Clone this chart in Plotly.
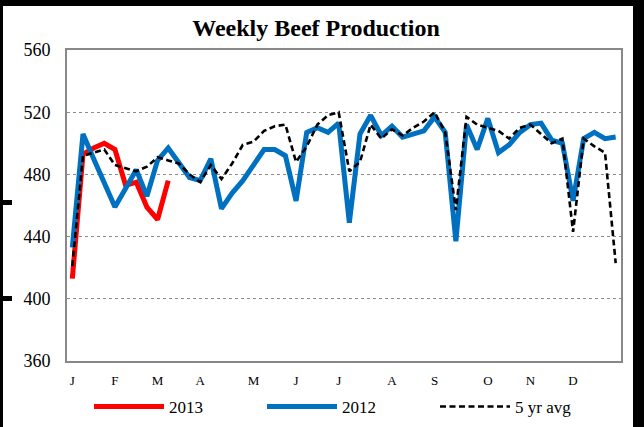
import plotly.graph_objects as go

weeks = list(range(1, 53))

prod_2013 = [413, 493, 497, 500, 496, 473, 475, 459, 451, 476]

prod_2012 = [433, 506, 490, 474, 459, 471, 483, 466, 489, 497,
             488, 478, 476, 490, 458, 468, 476, 486, 496, 496,
             492, 463, 507, 510, 507, 513, 449, 506, 518, 505,
             511, 504, 506, 508, 517, 507, 437, 512, 496, 516,
             494, 499, 507, 512, 513, 502, 500, 463, 503, 507,
             503, 504]

avg_5yr = [421, 492, 494, 496, 486, 484, 482, 485, 491, 489,
           487, 480, 475, 486, 477, 487, 499, 501, 508, 511,
           512, 488, 498, 512, 518, 520, 482, 488, 512, 503,
           509, 505, 510, 514, 520, 507, 457, 517, 512, 510,
           508, 503, 510, 512, 506, 500, 503, 443, 503, 498,
           494, 423]

month_weeks = [1, 5, 9, 13, 18, 22, 26, 31, 35, 40, 44, 48]
month_labels = ["J", "F", "M", "A", "M", "J", "J", "A", "S", "O", "N", "D"]

y_ticks = [360, 400, 440, 480, 520, 560]

SERIF = "Liberation Serif, Times New Roman, serif"

fig = go.Figure()
fig.add_trace(go.Scatter(x=weeks[:len(prod_2013)], y=prod_2013, mode="lines", name="2013",
                         line=dict(color="#ff0000", width=5)))
fig.add_trace(go.Scatter(x=weeks, y=prod_2012, mode="lines", name="2012",
                         line=dict(color="#0070c0", width=5)))
fig.add_trace(go.Scatter(x=weeks, y=avg_5yr, mode="lines", name="5 yr avg",
                         line=dict(color="#000000", width=2.6, dash="6px,3.5px")))

L, R, T, B = 67, 23, 50, 66
W, H = 644, 427
pw, ph = W - L - R, H - T - B

def px(xp):
    return (xp - L) / pw

def py(yp):
    return (H - B - yp) / ph

shapes = []
for x0, y0, x1, y1 in [(0, 0, 3, 427), (0, 0, 644, 6), (633, 0, 644, 427),
                       (0, 200, 12, 205), (0, 296, 12, 301)]:
    shapes.append(dict(type="rect", xref="paper", yref="paper",
                       x0=px(x0), x1=px(x1), y0=py(y1), y1=py(y0),
                       fillcolor="black", line=dict(width=0), layer="above"))

fig.update_layout(
    width=W, height=H,
    margin=dict(l=L, r=R, t=T, b=B, autoexpand=False),
    paper_bgcolor="white", plot_bgcolor="white",
    font=dict(family=SERIF, color="black"),
    title=dict(text="<b>Weekly Beef Production</b>", x=316 / W, xanchor="center",
               y=1 - 28 / H, yanchor="middle", font=dict(family=SERIF, size=24, color="black")),
    showlegend=True,
    legend=dict(orientation="h", xref="container", yref="container",
                x=89 / W, xanchor="left", y=1 - 407 / H, yanchor="middle",
                font=dict(family=SERIF, size=17, color="black"),
                itemwidth=70, entrywidth=88, entrywidthmode="pixels",
                bgcolor="rgba(0,0,0,0)", traceorder="normal"),
    shapes=shapes,
)
fig.update_xaxes(range=[0.5, 52.5], tickmode="array", tickvals=month_weeks, ticktext=month_labels,
                 showgrid=False, zeroline=False, showline=True, mirror=True,
                 linecolor="#888888", linewidth=2, ticks="",
                 tickfont=dict(family=SERIF, size=13, color="black"), ticklabelstandoff=6)
fig.update_yaxes(range=[360, 560], tickmode="array", tickvals=y_ticks,
                 showgrid=True, gridcolor="#8c8c8c", griddash="dot", gridwidth=1,
                 zeroline=False, showline=True, mirror=True,
                 linecolor="#888888", linewidth=2, ticks="",
                 tickfont=dict(family=SERIF, size=18, color="black"), ticklabelstandoff=11)

fig.write_html("out.html", config={"displayModeBar": False},
               post_script="document.body.style.margin='0px';")
